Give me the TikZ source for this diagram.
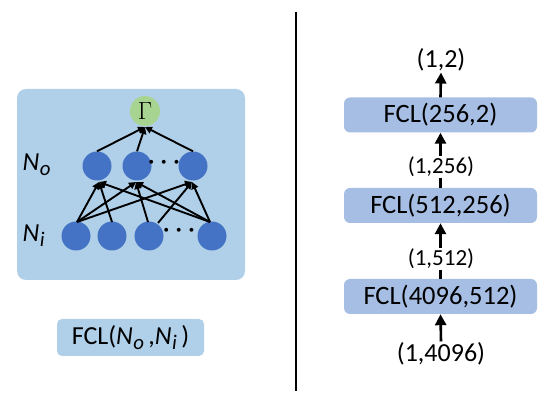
\documentclass[tikz,border=0pt]{standalone}
\usepackage{fontspec}
\setmainfont{Carlito}
\usepackage{graphicx}
\usetikzlibrary{arrows.meta}
\definecolor{bgblue}{RGB}{176,208,234}
\definecolor{nodeblue}{RGB}{68,114,196}
\definecolor{gammagreen}{RGB}{168,212,145}
\definecolor{fclblue}{RGB}{166,190,228}
\newcommand{\Nsubx}[1]{\textit{N}\kern0.5pt\raisebox{-0.4ex}{\scalebox{0.8}{\textit{#1}}}}
\begin{document}
\begin{tikzpicture}[x=1pt,y=-1pt,
  neuron/.style={circle,fill=nodeblue,minimum size=29pt,inner sep=0pt},
  nnarrow/.style={line width=1.9pt,-{Triangle[length=7pt,width=7pt]}},
  bigarrow/.style={line width=2.6pt,-{Triangle[length=11pt,width=11pt]}},
  fclbox/.style={rounded corners=6pt,fill=fclblue,minimum width=193pt,minimum height=35pt,inner sep=0pt,font=\fontsize{26.5}{30}\selectfont},
  dimlabel/.style={fill=white,inner sep=1pt,font=\fontsize{23}{26}\selectfont},
  dimend/.style={inner sep=1pt,font=\fontsize{26}{30}\selectfont},
  lbl/.style={font=\fontsize{26}{30}\selectfont},
  dots/.style={font=\fontsize{26}{26}\selectfont\mathversion{bold}}
]
\useasboundingbox (0,0) rectangle (550,403);
% left panel
\node[rounded corners=9pt,fill=bgblue,minimum width=228pt,minimum height=191pt,inner sep=0pt] (panel) at (131,184.5) {};
\node[circle,fill=gammagreen,minimum size=30pt,inner sep=0pt,font=\fontsize{28}{30}\selectfont] (g) at (145,111) {$\Gamma$};
\node[neuron] (m1) at (97,166) {};
\node[neuron] (m2) at (137,166) {};
\node[neuron] (m3) at (193,166) {};
\node[neuron] (i1) at (76,236) {};
\node[neuron] (i2) at (112,236) {};
\node[neuron] (i3) at (149,236) {};
\node[neuron] (i4) at (212,236) {};
\node[dots] (dm) at (164,163) {$\cdots$};
\node[dots] (di) at (179,231) {$\cdots$};
\node[lbl,anchor=west] (no) at (19,165) {\Nsubx{o}};
\node[lbl,anchor=west] (ni) at (19,236) {\Nsubx{i}};
\coordinate (gb) at (145,127);
\draw[nnarrow] (m1.north) -- (gb);
\draw[nnarrow] (m2.north) -- (gb);
\draw[nnarrow] (m3.north) -- (gb);
\coordinate (m1b) at (99,182);
\coordinate (m2b) at (136,182);
\coordinate (m3b) at (192,182);
\coordinate (i1t) at (77,222);
\coordinate (i2t) at (112,222);
\coordinate (i3t) at (148,222);
\coordinate (i3r) at (158,223);
\coordinate (i4t) at (210,222);
\draw[nnarrow] (i1t) -- (m1b);
\draw[nnarrow] (i1t) -- (m2b);
\draw[nnarrow] (i1t) -- (m3b);
\draw[nnarrow] (i2t) -- (m1b);
\draw[nnarrow] (i3t) -- (m2b);
\draw[nnarrow] (i3r) -- (m3b);
\draw[nnarrow] (i4t) -- (m1b);
\draw[nnarrow] (i4t) -- (m2b);
\draw[nnarrow] (i4t) -- (m3b);
\node[rounded corners=5pt,fill=bgblue,minimum width=147pt,minimum height=37pt,inner sep=0pt,font=\fontsize{26}{30}\selectfont] (fclleft) at (130.5,337.5) {FCL(\Nsubx{o}\,,\Nsubx{i}\,)};
% separator
\coordinate (st) at (296,12);
\coordinate (sb) at (296,391);
\draw[line width=2pt] (st) -- (sb);
% right panel
\node[fclbox] (f1) at (440.5,115) {FCL(256,2)};
\node[fclbox] (f2) at (440.5,205.5) {FCL(512,256)};
\node[fclbox] (f3) at (440.5,296.5) {FCL(4096,512)};
\node[dimend] (o) at (441,60) {(1,2)};
\node[dimend] (in) at (441,354) {(1,4096)};
\draw[bigarrow] (f1.north) -- (o.south);
\draw[bigarrow] (f2.north) -- (f1.south);
\draw[bigarrow] (f3.north) -- (f2.south);
\draw[bigarrow] (in.north) -- (f3.south);
\node[dimlabel] (l1) at (441,167) {(1,256)};
\node[dimlabel] (l2) at (441,259) {(1,512)};
\end{tikzpicture}
\end{document}
